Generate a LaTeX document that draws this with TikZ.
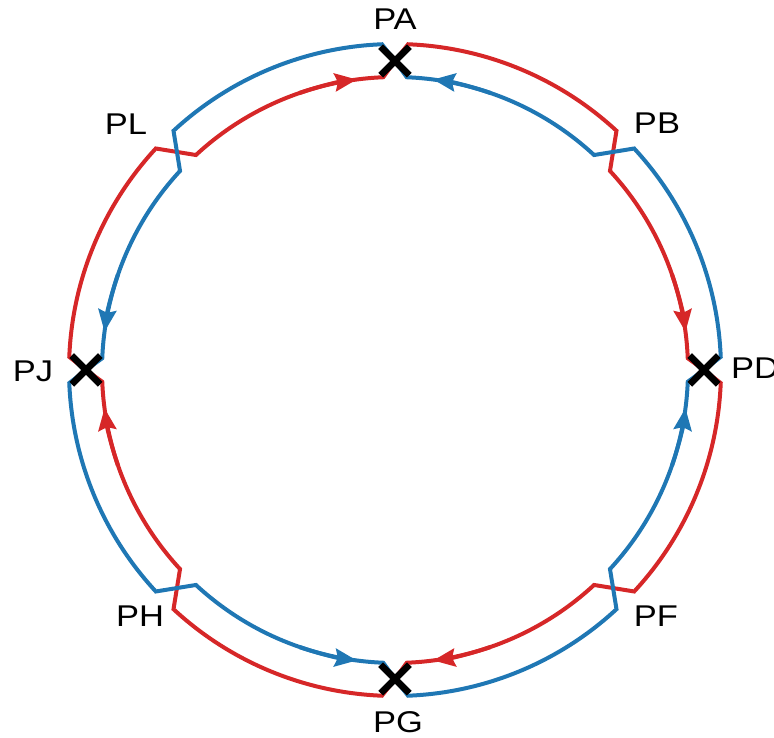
\documentclass[tikz,border=0pt]{standalone}
\usepackage{fontspec}
\usepackage{graphicx}
\setmainfont{Liberation Sans}
\usetikzlibrary{arrows.meta,shapes.misc}
\definecolor{tred}{HTML}{D62728}
\definecolor{tblue}{HTML}{1F77B4}
\newcommand{\widelbl}[1]{\scalebox{1.15}[1]{#1}}
\begin{document}
\begin{tikzpicture}[x=1pt,y=1pt,
  redl/.style={draw=tred,line width=4pt},
  bluel/.style={draw=tblue,line width=4pt},
  tipr/.style={-{Stealth[length=22pt,width=18pt,inset=3pt]}},
  xmark/.style={cross out,draw=black,line width=6.5pt,minimum size=22pt,inner sep=0pt},
  lbl/.style={font=\fontsize{30}{34}\selectfont,inner sep=0pt,text=black}]
\useasboundingbox (0,0) rectangle (774,738);
\begin{scope}[shift={(395,368)}]
  \node[xmark] (xA) at (90:309) {};
  \node[xmark] (xD) at (0:309) {};
  \node[xmark] (xG) at (-90:309) {};
  \node[xmark] (xJ) at (180:309) {};
  \foreach \a/\s/\e in {90/xA/xD, 0/xD/xG, -90/xG/xJ, -180/xJ/xA} {
    \pgfmathsetmacro\b{\a-90}
    \pgfmathsetmacro\m{\a-45}
    % red: clockwise, outer then inner
    \draw[redl] (\s.center) -- ({\a-2.3}:326)
      arc[start angle={\a-2.3}, end angle={\m+2.2}, radius=326pt]
      -- ({\m-2.2}:293)
      arc[start angle={\m-2.2}, end angle={\b+2.3}, radius=293pt]
      -- (\e.center);
    \draw[redl,tipr,fill=tred] ({\b+19}:293)
      arc[start angle={\b+19}, end angle={\b+7.5}, radius=293pt];
    % blue: counterclockwise, outer then inner
    \draw[bluel] (\e.center) -- ({\b+2.3}:326)
      arc[start angle={\b+2.3}, end angle={\m-2.2}, radius=326pt]
      -- ({\m+2.2}:293)
      arc[start angle={\m+2.2}, end angle={\a-2.3}, radius=293pt]
      -- (\s.center);
    \draw[bluel,tipr,fill=tblue] ({\a-19}:293)
      arc[start angle={\a-19}, end angle={\a-7.5}, radius=293pt];
  }
  % X marks on top
  \foreach \n in {xA,xD,xG,xJ} {
    \draw[black,line width=6.5pt] (\n.south west) -- (\n.north east)
      (\n.north west) -- (\n.south east);
  }
\end{scope}
\node[lbl] (PA) at (395,719) {\widelbl{PA}};
\node[lbl] (PB) at (657,615) {\widelbl{PB}};
\node[lbl,anchor=west] (PD) at (731,370) {\widelbl{PD}};
\node[lbl] (PF) at (656,122) {\widelbl{PF}};
\node[lbl] (PG) at (398,15.5) {\widelbl{PG}};
\node[lbl] (PH) at (140,122) {\widelbl{PH}};
\node[lbl] (PJ) at (33,367) {\widelbl{PJ}};
\node[lbl] (PL) at (126,614) {\widelbl{PL}};
\end{tikzpicture}
\end{document}
